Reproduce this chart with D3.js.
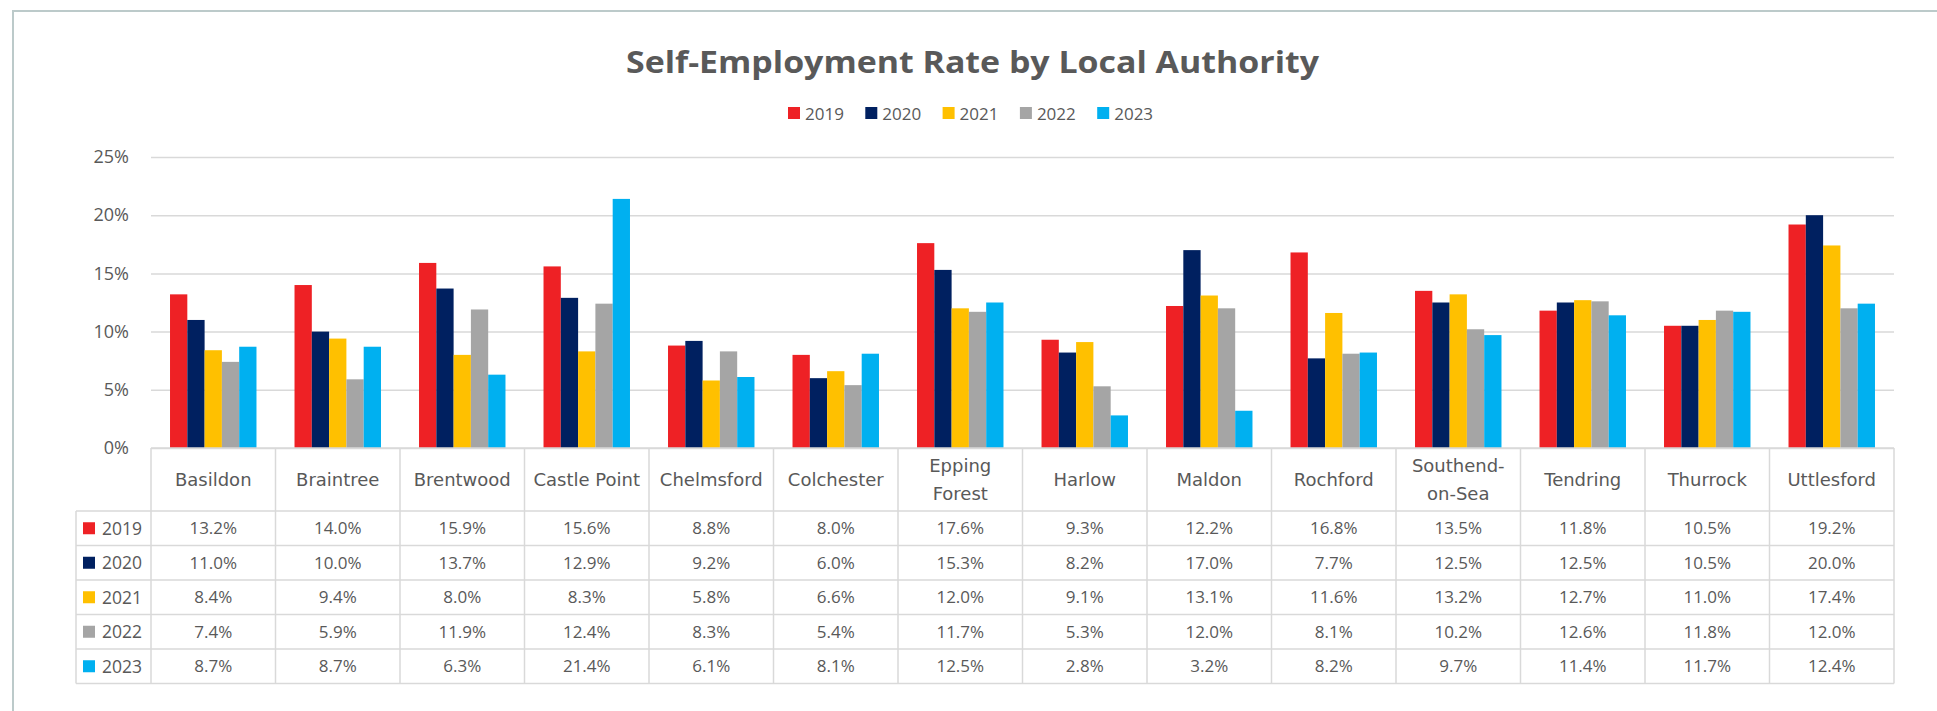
<!DOCTYPE html>
<html>
<head>
<meta charset="utf-8">
<script src="https://cdn.jsdelivr.net/npm/d3@7"></script>
<style>
  html, body { margin: 0; padding: 0; background: #fff; }
  svg { display: block; }
</style>
</head>
<body>
<script>
// ---- data ----
const categories = ["Basildon","Braintree","Brentwood","Castle Point","Chelmsford","Colchester","Epping Forest","Harlow","Maldon","Rochford","Southend-on-Sea","Tendring","Thurrock","Uttlesford"];
const categoryLabels = [["Basildon"],["Braintree"],["Brentwood"],["Castle Point"],["Chelmsford"],["Colchester"],["Epping","Forest"],["Harlow"],["Maldon"],["Rochford"],["Southend-","on-Sea"],["Tendring"],["Thurrock"],["Uttlesford"]];
const years = ["2019","2020","2021","2022","2023"];
const colors = ["#EE2125","#002060","#FFC000","#A5A5A5","#00B0F0"];
const v2019 = [13.2,14.0,15.9,15.6,8.8,8.0,17.6,9.3,12.2,16.8,13.5,11.8,10.5,19.2];
const v2020 = [11.0,10.0,13.7,12.9,9.2,6.0,15.3,8.2,17.0,7.7,12.5,12.5,10.5,20.0];
const v2021 = [8.4,9.4,8.0,8.3,5.8,6.6,12.0,9.1,13.1,11.6,13.2,12.7,11.0,17.4];
const v2022 = [7.4,5.9,11.9,12.4,8.3,5.4,11.7,5.3,12.0,8.1,10.2,12.6,11.8,12.0];
const v2023 = [8.7,8.7,6.3,21.4,6.1,8.1,12.5,2.8,3.2,8.2,9.7,11.4,11.7,12.4];
const series = [v2019, v2020, v2021, v2022, v2023];
const yTicks = [0,5,10,15,20,25];
const yTickLabels = ["0%","5%","10%","15%","20%","25%"];
const title = "Self-Employment Rate by Local Authority";

// ---- layout ----
const W = 1937, H = 711;
const plotL = 151, plotR = 1894, plotT = 157, plotB = 448;
const tableL = 76, headerB = 511, rowH = 34.5;
const textColor = "#595959";
const lineColor = "#D9D9D9";

const svg = d3.select("body").append("svg").attr("width", W).attr("height", H);

// outer frame
svg.append("rect").attr("x", 13).attr("y", 11).attr("width", W + 20).attr("height", H + 20)
  .attr("fill", "none").attr("stroke", "#BCCACA").attr("stroke-width", 2);

// title
svg.append("text").attr("x", 972.5).attr("y", 73).attr("text-anchor", "middle")
  .attr("font-family", "'Open Sans', sans-serif").attr("font-weight", 700).attr("font-size", 31)
  .attr("fill", textColor).attr("textLength", 693).attr("lengthAdjust", "spacingAndGlyphs")
  .text(title);

// legend
const leg = svg.append("g");
years.forEach((y, i) => {
  const lx = 788 + i * 77.3;
  leg.append("rect").attr("x", lx).attr("y", 107).attr("width", 12).attr("height", 12).attr("fill", colors[i]);
  leg.append("text").attr("x", lx + 17).attr("y", 119.5)
    .attr("font-family", "'Open Sans', sans-serif").attr("font-size", 17).attr("fill", textColor).text(y);
});

// scales
const x0 = d3.scaleBand().domain(categories).range([plotL, plotR]).paddingInner(0).paddingOuter(0);
const x1 = d3.scaleBand().domain(years).range([0, x0.bandwidth()]).paddingInner(0).paddingOuter(1.1);
const y = d3.scaleLinear().domain([0, 25]).range([plotB, plotT]);

// y axis + gridlines
const yAxis = d3.axisLeft(y).tickValues(yTicks)
  .tickFormat((d, i) => yTickLabels[i]).tickSize(-(plotR - plotL)).tickPadding(22);
const ga = svg.append("g").attr("transform", `translate(${plotL},0)`).call(yAxis);
ga.select(".domain").remove();
ga.selectAll(".tick line").attr("stroke", lineColor).attr("stroke-width", 1.5);
ga.selectAll(".tick text").attr("font-family", "'Open Sans', sans-serif").attr("font-size", 18).attr("fill", textColor);

// bars
const gBars = svg.append("g");
categories.forEach((c, ci) => {
  years.forEach((yr, si) => {
    const v = series[si][ci];
    gBars.append("rect")
      .attr("x", x0(c) + x1(yr))
      .attr("y", y(v))
      .attr("width", x1.bandwidth())
      .attr("height", y(0) - y(v))
      .attr("fill", colors[si]);
  });
});

// data table
const gT = svg.append("g");
const tableB = headerB + rowH * years.length;
gT.append("line").attr("x1", plotL).attr("x2", plotR).attr("y1", plotB).attr("y2", plotB)
  .attr("stroke", lineColor).attr("stroke-width", 1.5);
for (let r = 0; r <= years.length; r++) {
  const yy = headerB + r * rowH;
  gT.append("line").attr("x1", tableL).attr("x2", plotR).attr("y1", yy).attr("y2", yy)
    .attr("stroke", lineColor).attr("stroke-width", 1.5);
}
gT.append("line").attr("x1", tableL).attr("x2", tableL).attr("y1", headerB).attr("y2", tableB)
  .attr("stroke", lineColor).attr("stroke-width", 1.5);
categories.concat([null]).forEach((c) => {
  const xx = c === null ? plotR : x0(c);
  gT.append("line").attr("x1", xx).attr("x2", xx).attr("y1", plotB).attr("y2", tableB)
    .attr("stroke", lineColor).attr("stroke-width", 1.5);
});
categories.forEach((c, ci) => {
  const lines = categoryLabels[ci];
  const cx = x0(c) + x0.bandwidth() / 2;
  const cy = (plotB + headerB) / 2;
  lines.forEach((ln, li) => {
    const ly = cy + (li - (lines.length - 1) / 2) * 28;
    gT.append("text").attr("x", cx).attr("y", ly).attr("dy", "0.36em").attr("text-anchor", "middle")
      .attr("font-family", "'DejaVu Sans', sans-serif").attr("font-size", 18).attr("fill", textColor).text(ln);
  });
});
years.forEach((yr, si) => {
  const cy = headerB + rowH * (si + 0.5);
  gT.append("rect").attr("x", 83).attr("y", cy - 6).attr("width", 12).attr("height", 12).attr("fill", colors[si]);
  gT.append("text").attr("x", 102).attr("y", cy).attr("dy", "0.36em")
    .attr("font-family", "'Open Sans', sans-serif").attr("font-size", 17.5).attr("fill", textColor).text(yr);
  categories.forEach((c, ci) => {
    gT.append("text").attr("x", x0(c) + x0.bandwidth() / 2).attr("y", cy).attr("dy", "0.36em")
      .attr("text-anchor", "middle")
      .attr("font-family", "'Open Sans', sans-serif").attr("font-size", 17).attr("fill", textColor)
      .text(series[si][ci].toFixed(1) + "%");
  });
});
</script>
</body>
</html>
